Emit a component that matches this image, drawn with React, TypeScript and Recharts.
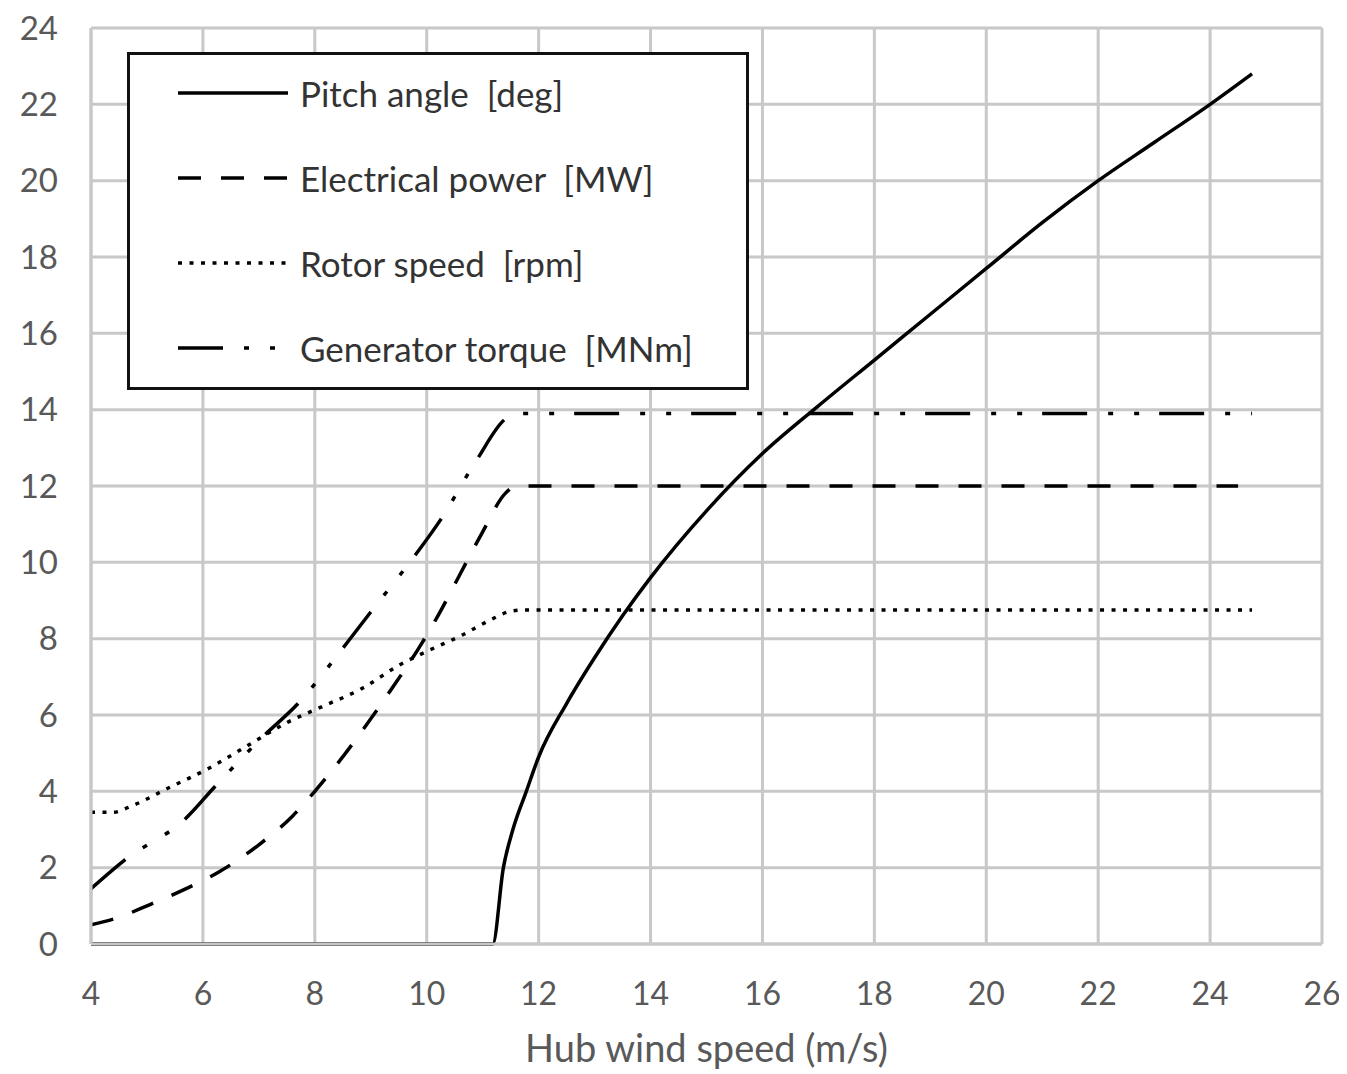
import React from 'react';
import { LineChart, Line, XAxis, YAxis, CartesianGrid, Legend, Label } from 'recharts';

// ---- data ----
const windPitch = [4, 11.18, 11.37, 11.54, 11.78, 12, 12.5, 13, 13.5, 14, 15, 16, 17, 18, 19, 20, 21, 22, 23, 24, 24.75];
const pitchAngle = [0, 0, 2.0, 3.0, 4.0, 4.9, 6.3, 7.5, 8.6, 9.6, 11.35, 12.85, 14.1, 15.3, 16.5, 17.7, 18.9, 20.0, 21.0, 22.0, 22.8];

const windPower = [4, 4.5, 5, 5.7, 6.3, 7, 7.6, 8, 8.55, 9, 9.45, 9.9, 10.2, 10.6, 11, 11.4, 11.6, 24.5];
const electricalPower = [0.5, 0.7, 1.0, 1.45, 1.9, 2.6, 3.35, 4.0, 5.0, 5.9, 6.85, 7.85, 8.6, 9.7, 10.8, 11.8, 12, 12];

const windRotor = [4, 4.4, 4.7, 5.4, 6.1, 6.8, 7.5, 8.1, 8.85, 9.5, 10.05, 10.6, 11.15, 11.45, 11.7, 24.75];
const rotorSpeed = [3.45, 3.45, 3.6, 4.1, 4.6, 5.2, 5.8, 6.2, 6.7, 7.3, 7.7, 8.07, 8.5, 8.7, 8.75, 8.75];

const windTorque = [4, 4.6, 5.7, 6.2, 7.05, 7.7, 8.5, 9.0, 9.8, 10.24, 10.9, 11.4, 11.6, 24.75];
const generatorTorque = [1.45, 2.2, 3.3, 4.1, 5.4, 6.3, 7.75, 8.7, 10.2, 11.1, 12.7, 13.75, 13.9, 13.9];

const xTicks = [4, 6, 8, 10, 12, 14, 16, 18, 20, 22, 24, 26];
const yTicks = [0, 2, 4, 6, 8, 10, 12, 14, 16, 18, 20, 22, 24];

const seriesNames = ['Pitch angle  [deg]', 'Electrical power  [MW]', 'Rotor speed  [rpm]', 'Generator torque  [MNm]'];
const xTitle = 'Hub wind speed (m/s)';

const toPoints = (xs: number[], ys: number[]) => xs.map((x, i) => ({ x, y: ys[i] }));

const series = [
  { name: seriesNames[0], data: toPoints(windPitch, pitchAngle), dash: undefined as string | undefined },
  { name: seriesNames[1], data: toPoints(windPower, electricalPower), dash: '23 20' },
  { name: seriesNames[2], data: toPoints(windRotor, rotorSpeed), dash: '4 7.5' },
  { name: seriesNames[3], data: toPoints(windTorque, generatorTorque), dash: '45 21 5 21 5 20' },
];

const FONT = 'Lato, "Open Sans", sans-serif';

const LegendBox = () => (
  <svg width={622} height={338} style={{ display: 'block' }}>
    <rect x={1.5} y={1.5} width={619} height={335} fill="#fff" stroke="#111" strokeWidth={3} />
    {series.map((s, i) => {
      const cy = 41 + i * 85;
      return (
        <g key={s.name}>
          <line x1={51} x2={161} y1={cy} y2={cy} stroke="#000" strokeWidth={3.5} strokeDasharray={s.dash} />
          <text x={173} y={cy} dominantBaseline="central" fontFamily={FONT} fontSize={35} fill="#333" style={{ whiteSpace: 'pre' }}>
            {s.name}
          </text>
        </g>
      );
    })}
  </svg>
);

export default function App() {
  return (
    <div style={{ width: 1339, height: 1066 }}>
      <LineChart width={1339} height={1066} margin={{ top: 20, right: 25, bottom: 6, left: 0 }}>
        <CartesianGrid stroke="#c8c8c8" strokeWidth={3} />
        <XAxis
          type="number"
          dataKey="x"
          domain={[4, 26]}
          ticks={xTicks}
          allowDataOverflow
          height={124}
          tickSize={0}
          tickMargin={38}
          axisLine={{ stroke: '#c8c8c8', strokeWidth: 3 }}
          tickLine={false}
          tick={{ fill: '#595959', fontSize: 32, fontFamily: FONT }}
        >
          <Label value={xTitle} position="insideBottom" offset={6} fill="#595959" fontSize={38} fontFamily={FONT} />
        </XAxis>
        <YAxis
          type="number"
          domain={[0, 24]}
          ticks={yTicks}
          width={83}
          tickSize={0}
          tickMargin={33}
          axisLine={{ stroke: '#c8c8c8', strokeWidth: 3 }}
          tickLine={false}
          tick={{ fill: '#595959', fontSize: 33, fontFamily: FONT }}
        />
        {series.map((s) => (
          <Line
            key={s.name}
            data={s.data}
            dataKey="y"
            name={s.name}
            type="monotone"
            stroke="#000"
            strokeWidth={3.5}
            strokeDasharray={s.dash}
            dot={false}
            activeDot={false}
            isAnimationActive={false}
          />
        ))}
        <Legend
          layout="vertical"
          align="center"
          verticalAlign="middle"
          wrapperStyle={{ left: 119, top: 44, width: 622, height: 338 }}
          content={() => <LegendBox />}
        />
      </LineChart>
    </div>
  );
}
